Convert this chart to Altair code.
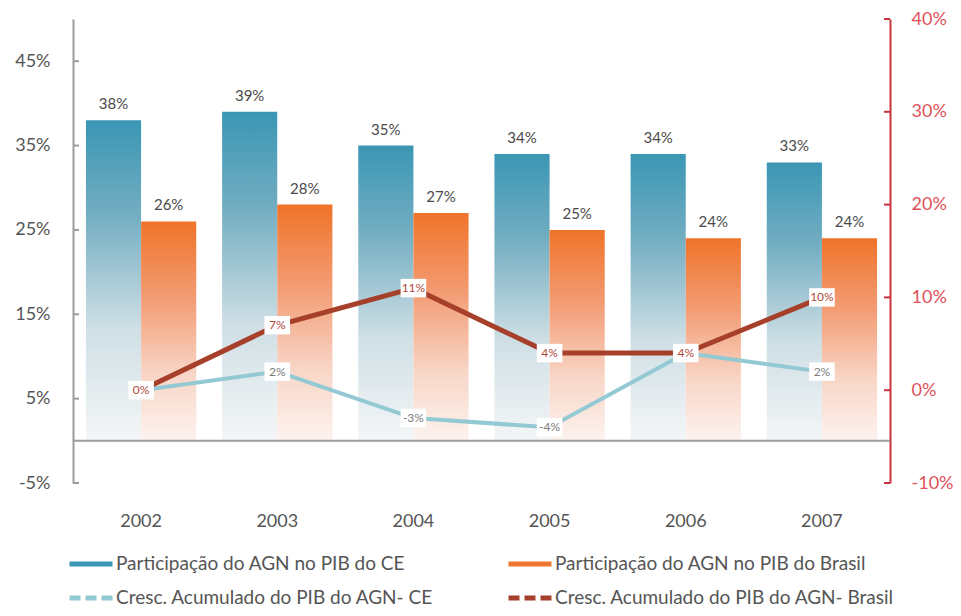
import altair as alt
import pandas as pd

years = ["2002", "2003", "2004", "2005", "2006", "2007"]
part_ce = [38, 39, 35, 34, 34, 33]
part_br = [26, 28, 27, 25, 24, 24]
cresc_ce = [0, 2, -3, -4, 4, 2]
cresc_br = [0, 7, 11, 4, 4, 10]
series = [
    "Participação do  AGN no PIB do CE",
    "Participação do  AGN no PIB do Brasil",
    "Cresc. Acumulado do PIB do AGN- CE",
    "Cresc. Acumulado do PIB do AGN- Brasil",
]
left_ticks = [-5, 5, 15, 25, 35, 45]
right_ticks = [-10, 0, 10, 20, 30, 40]

W, H = 817, 464
FONT = "Lato"
GRAY_AX = "#9c9c9c"
RED_AX = "#c8343e"
RED_LBL = "#e0525a"
BLUE = "#3b97b5"
ORANGE = "#ef7630"
LBLUE = "#93c9d3"
DRED = "#a6402b"

bars = pd.DataFrame({
    "year": years * 2,
    "series": [series[0]] * 6 + [series[1]] * 6,
    "value": part_ce + part_br,
})
lines = pd.DataFrame({
    "year": years * 2,
    "series": [series[2]] * 6 + [series[3]] * 6,
    "value": cresc_ce + cresc_br,
})
lab_rows = []
for y, c, b in zip(years, cresc_ce, cresc_br):
    lab_rows.append({"year": y, "who": "br", "value": b})
    if c != b:
        lab_rows.append({"year": y, "who": "ce", "value": c})
labels = pd.DataFrame(lab_rows)
lt = pd.DataFrame({"value": left_ticks})
rt = pd.DataFrame({"value": right_ticks})
zero = pd.DataFrame({"value": [0]})

x_axis = alt.Axis(title=None, labelAngle=0, domain=False, ticks=False, labelPadding=29,
                  labelFontSize=18, labelFont=FONT, labelColor="#555555", grid=False)
xs = alt.Scale(domain=years, paddingInner=0.19, paddingOuter=0.095)
X = alt.X("year:N", scale=xs, axis=x_axis)
xoff = alt.XOffset("series:N", scale=alt.Scale(domain=[series[0], series[1]], paddingInner=0, paddingOuter=0))

ls = alt.Scale(domain=[-5, 50], nice=False, zero=False)
rs = alt.Scale(domain=[-10, 40], nice=False, zero=False)
y_left = alt.Y("value:Q", scale=ls, axis=alt.Axis(
    title=None, values=left_ticks, labelExpr="datum.value + '%'", grid=False, tickSize=0,
    domainColor=GRAY_AX, domainWidth=2, labelPadding=23, labelFontSize=18, labelFont=FONT,
    labelColor="#555555"))
y_right = alt.Y("value:Q", scale=rs, axis=alt.Axis(
    title=None, orient="right", values=right_ticks, labelExpr="datum.value + '%'", grid=False,
    tickSize=0, domainColor=RED_AX, domainWidth=2, labelPadding=21, labelFontSize=18,
    labelFont=FONT, labelColor=RED_LBL))


def grad(stops):
    return alt.Gradient(gradient="linear", x1=0, x2=0, y1=0, y2=1,
                        stops=[alt.GradientStop(offset=o, color=c) for o, c in stops])


blue_grad = grad([(0, "#3a96b4"), (0.3, "#74aec2"), (0.65, "#cfdfe5"), (1, "#f4f6f7")])
orange_grad = grad([(0, "#ef7329"), (0.35, "#f39c74"), (0.7, "#f8d6c7"), (1, "#fdf3ef")])

base_b = alt.Chart(bars)
bar_ce = base_b.transform_filter(alt.datum.series == series[0]).mark_bar(
    color=blue_grad).encode(x=X, xOffset=xoff, y=y_left)
bar_br = base_b.transform_filter(alt.datum.series == series[1]).mark_bar(
    color=orange_grad).encode(x=X, xOffset=xoff, y=y_left)
bar_txt = base_b.transform_calculate(lbl="datum.value + '%'").mark_text(
    baseline="bottom", dy=-8, fontSize=15, font=FONT, color="#4a4a4a").encode(
    x=X, xOffset=xoff, y=y_left, text="lbl:N")
baseline = alt.Chart(zero).mark_rule(color=GRAY_AX, strokeWidth=2).encode(y=y_left)
lticks = alt.Chart(lt).mark_rule(color=GRAY_AX, strokeWidth=2).encode(
    y=y_left, x=alt.value(0), x2=alt.value(6))

left = alt.layer(bar_ce, bar_br, bar_txt, baseline, lticks)

# legend order arranged so that the 2-column grid reads row by row
legend_order = [series[0], series[2], series[1], series[3]]
color_scale = alt.Scale(domain=legend_order, range=[BLUE, LBLUE, ORANGE, DRED])
dash_scale = alt.Scale(domain=legend_order, range=[[1, 0], [11, 5], [1, 0], [11, 5]])
leg = alt.Legend(
    title=None, orient="none", legendX=-6, legendY=521, columns=2, columnPadding=64,
    symbolType="stroke", symbolSize=1849, symbolStrokeWidth=5, labelFontSize=19,
    labelFont=FONT, labelColor="#555555", labelLimit=600, labelOffset=1, rowPadding=-12)

base_l = alt.Chart(lines)
line_ce = base_l.transform_filter(alt.datum.series == series[2]).mark_line(
    color=LBLUE, strokeWidth=4).encode(x=X, y=y_right)
line_br = base_l.transform_filter(alt.datum.series == series[3]).mark_line(
    color=DRED, strokeWidth=5).encode(x=X, y=y_right)
legend_layer = base_l.transform_filter("false").mark_line(strokeWidth=5).encode(
    x=X, y=y_right,
    color=alt.Color("series:N", scale=color_scale, legend=leg),
    strokeDash=alt.StrokeDash("series:N", scale=dash_scale, legend=leg),
)
boxes = alt.Chart(labels).mark_point(
    shape="M-1.25,-0.9L1.25,-0.9L1.25,0.9L-1.25,0.9Z", size=420, filled=True, fill="white",
    opacity=1, strokeWidth=0).encode(x=X, y=y_right)
lab_txt = alt.Chart(labels).transform_calculate(lbl="datum.value + '%'").mark_text(
    fontSize=12, font=FONT).encode(
    x=X, y=y_right, text="lbl:N",
    color=alt.condition(alt.datum.who == "br", alt.value("#b0483a"), alt.value("#7d7d7d")))
rticks = alt.Chart(rt).mark_rule(color=RED_AX, strokeWidth=2).encode(
    y=y_right, x=alt.value(W - 6), x2=alt.value(W))

right = alt.layer(line_ce, line_br, legend_layer, boxes, lab_txt, rticks)

chart = alt.layer(left, right).resolve_scale(y="independent").properties(
    width=W, height=H, autosize=alt.AutoSizeParams(type="none"),
    padding={"left": 65, "top": 11, "right": 63, "bottom": 125},
).configure(font=FONT).configure_view(stroke=None)

chart.save("out.html", embed_options={"renderer": "svg", "actions": False})
